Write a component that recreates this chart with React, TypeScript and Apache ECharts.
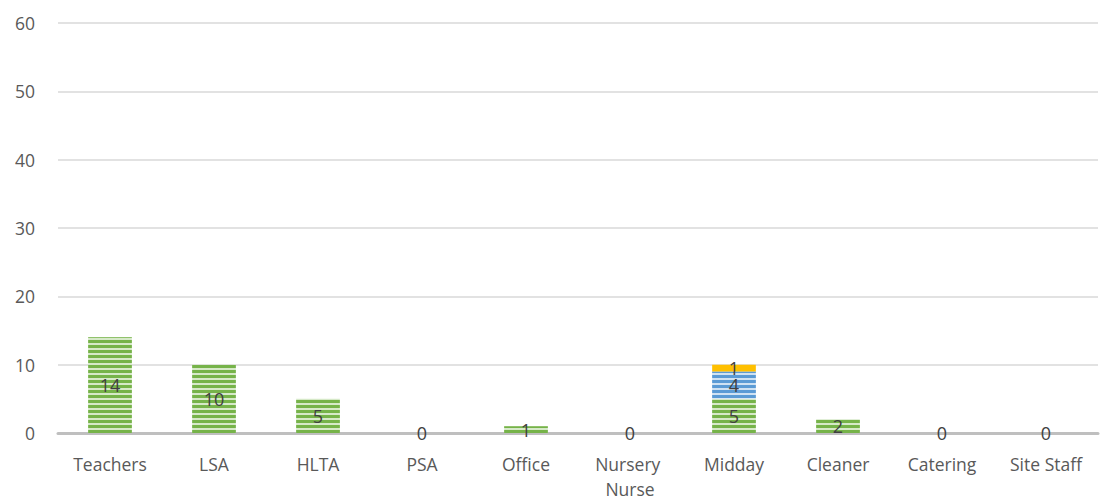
import React, { useEffect, useRef } from "react";
import * as echarts from "echarts";

const categories = ["Teachers", "LSA", "HLTA", "PSA", "Office", "Nursery Nurse", "Midday", "Cleaner", "Catering", "Site Staff"];
const greenValues = [14, 10, 5, 0, 1, 0, 5, 2, 0, 0];
const blueValues = [0, 0, 0, 0, 0, 0, 4, 0, 0, 0];
const yellowValues = [0, 0, 0, 0, 0, 0, 1, 0, 0, 0];
const yTicks = { min: 0, max: 60, interval: 10 };

const FONT = "'Open Sans', 'Noto Sans', sans-serif";

function stripeDecal(color: string) {
  return {
    symbol: "rect",
    symbolSize: 1,
    color,
    dashArrayX: [1, 0],
    dashArrayY: [3, 2],
    rotation: 0,
  };
}

export default function App() {
  const ref = useRef<HTMLDivElement>(null);
  useEffect(() => {
    if (!ref.current) return;
    const chart = echarts.init(ref.current, undefined, { renderer: "svg" });
    const labelBase = {
      show: true,
      position: "inside",
      color: "#404040",
      fontSize: 18,
      fontFamily: FONT,
    };
    chart.setOption({
      animation: false,
      backgroundColor: "#ffffff",
      grid: { left: 58, right: 17, top: 23, bottom: 69, outerBoundsMode: "none", containLabel: false },
      xAxis: {
        type: "category",
        data: categories,
        axisLine: { lineStyle: { color: "#bfbfbf", width: 3 } },
        axisTick: { show: false },
        axisLabel: {
          color: "#595959",
          fontSize: 17.5,
          fontFamily: FONT,
          margin: 18,
          lineHeight: 25,
          width: 95,
          overflow: "break",
          interval: 0,
        },
      },
      yAxis: {
        type: "value",
        min: yTicks.min,
        max: yTicks.max,
        interval: yTicks.interval,
        axisLine: { show: false },
        axisTick: { show: false },
        splitLine: { lineStyle: { color: "#d9d9d9", width: 1.5 } },
        axisLabel: { color: "#595959", fontSize: 17.5, fontFamily: FONT, margin: 23 },
      },
      series: [
        {
          type: "bar",
          stack: "s",
          data: greenValues,
          barWidth: "42%",
          itemStyle: { color: "#d6e9c8", decal: stripeDecal("#76b349") },
          label: { ...labelBase },
        },
        {
          type: "bar",
          stack: "s",
          data: blueValues,
          itemStyle: { color: "#cfe2f3", decal: stripeDecal("#5b9bd5") },
          label: { ...labelBase, formatter: (p: any) => (p.value ? String(p.value) : "") },
        },
        {
          type: "bar",
          stack: "s",
          data: yellowValues,
          itemStyle: { color: "#ffc000" },
          label: { ...labelBase, formatter: (p: any) => (p.value ? String(p.value) : "") },
        },
      ],
    });
    return () => chart.dispose();
  }, []);
  return <div ref={ref} style={{ width: 1115, height: 502, position: "absolute", left: 0, top: 0 }} />;
}
